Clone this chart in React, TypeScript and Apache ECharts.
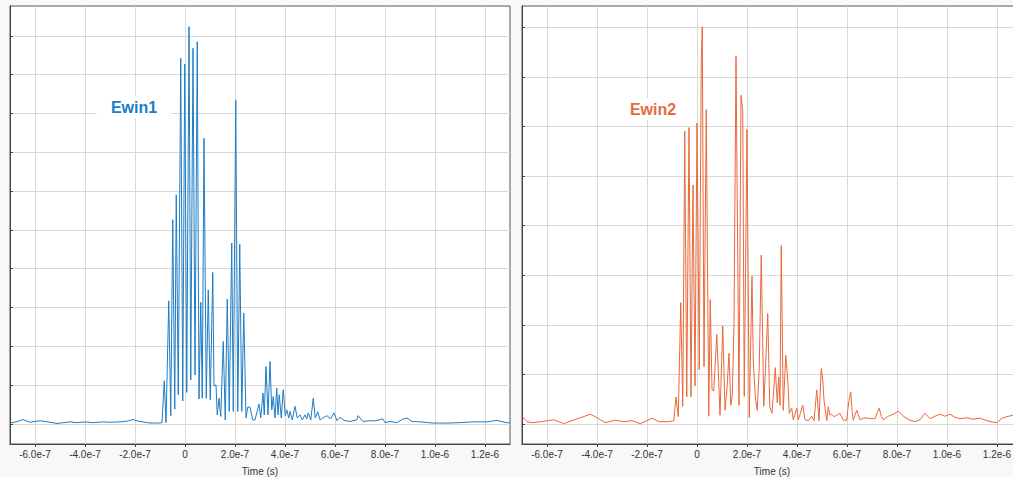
import React, { useEffect, useRef } from 'react';
import * as echarts from 'echarts';

// time in ns (axis labels shown in seconds)
const xTicks = [-600, -400, -200, 0, 200, 400, 600, 800, 1000, 1200];
const leftYTicks = [0, 1, 2, 3, 4, 5, 6, 7, 8, 9, 10];
const rightYTicks = [0, 1, 2, 3, 4, 5, 6, 7, 8];

const ewin1: [number, number][] = [
  [-700, 0.02], [-676, 0.05], [-649, 0.11], [-620, 0.04], [-580, 0.08], [-540, 0.04], [-512, 0.01],
  [-460, 0.05], [-432, 0.03], [-400, 0.05], [-368, 0.03], [-330, 0.05], [-300, 0.04], [-260, 0.05],
  [-230, 0.07], [-208, 0.11], [-188, 0.07], [-168, 0.05], [-140, 0.02], [-108, 0.02], [-92, 0.03],
  [-83, 1.11], [-76, 0.03], [-65, 3.17], [-57, 0.21], [-49, 5.26], [-41, 0.38], [-35, 5.9], [-27, 0.75],
  [-17, 9.42], [-9, 0.59], [-1, 9.27], [7, 0.81], [16, 10.24], [23, 1.13], [32, 9.68], [40, 1.26],
  [49, 9.85], [56, 0.64], [63, 3.13], [69, 0.66], [76, 7.36], [85, 0.66], [93, 3.45], [101, 0.62],
  [111, 3.9], [116, 0.98], [124, 1.0], [129, 0.23], [136, 0.66], [143, 0.19], [153, 2.12], [161, 0.1],
  [169, 3.21], [177, 0.32], [187, 4.66], [193, 0.32], [203, 8.35], [211, 0.32], [219, 4.63], [227, 0.32],
  [235, 2.85], [244, 0.15], [251, 0.43], [260, 0.43], [271, 0.1], [280, 0.1], [296, 0.51], [303, 0.15],
  [312, 0.79], [317, 0.23], [324, 1.48], [332, 0.23], [340, 1.61], [347, 0.36], [353, 0.7], [360, 0.15],
  [367, 0.92], [372, 0.23], [377, 0.75], [385, 0.15], [393, 0.88], [401, 0.21], [407, 0.36], [415, 0.15],
  [420, 0.32], [429, 0.1], [440, 0.45], [449, 0.15], [460, 0.23], [469, 0.1], [480, 0.23], [487, 0.13],
  [493, 0.28], [503, 0.1], [513, 0.66], [521, 0.15], [531, 0.31], [540, 0.1], [551, 0.15], [567, 0.21],
  [583, 0.13], [596, 0.28], [608, 0.08], [620, 0.17], [636, 0.09], [660, 0.06], [687, 0.1], [692, 0.21],
  [712, 0.06], [740, 0.08], [764, 0.08], [791, 0.13], [800, 0.03], [820, 0.06], [847, 0.03], [872, 0.12],
  [888, 0.15], [908, 0.06], [940, 0.05], [992, 0.02], [1048, 0.02], [1100, 0.03], [1152, 0.05],
  [1208, 0.05], [1248, 0.09], [1272, 0.05], [1300, 0.02],
];

const ewin2: [number, number][] = [
  [-700, 0.16], [-680, 0.05], [-660, 0.03], [-620, 0.05], [-573, 0.09], [-533, 0.01], [-500, 0.07],
  [-460, 0.14], [-427, 0.2], [-407, 0.15], [-367, 0.03], [-327, 0.08], [-293, 0.05], [-260, 0.07],
  [-227, 0.01], [-180, 0.12], [-153, 0.05], [-113, 0.05], [-93, 0.07],
  [-84, 0.55], [-75, 0.15], [-65, 2.45], [-57, 0.36], [-49, 5.91], [-41, 0.55], [-32, 5.98], [-24, 0.55],
  [-16, 4.82], [-8, 0.77], [0, 6.07], [9, 1.1], [17, 7.3], [21, 8.01], [28, 1.16], [37, 6.34], [47, 0.16],
  [53, 2.51], [60, 0.69], [67, 0.67], [79, 1.81], [85, 1.09], [92, 0.18], [103, 1.98], [112, 0.28],
  [120, 0.72], [128, 1.43], [135, 0.38], [141, 0.56], [148, 2.03], [156, 7.42], [168, 0.38], [176, 6.63],
  [183, 6.33], [189, 0.56], [200, 5.94], [209, 0.13], [220, 2.98], [225, 1.29], [233, 0.55], [241, 0.28],
  [249, 1.16], [257, 3.41], [267, 0.36], [273, 1.03], [283, 2.23], [291, 0.35], [300, 0.22], [313, 1.14],
  [321, 0.43], [327, 0.95], [332, 0.38], [337, 3.6], [345, 0.28], [355, 1.39], [364, 0.82], [369, 0.22],
  [379, 0.32], [385, 0.09], [399, 0.32], [405, 0.09], [415, 0.24], [423, 0.38], [432, 0.09], [445, 0.07],
  [459, 0.16], [468, 0.07], [479, 0.69], [488, 0.07], [497, 1.12], [503, 0.89], [508, 0.48], [519, 0.07],
  [525, 0.35], [532, 0.18], [539, 0.2], [548, 0.15], [559, 0.18], [572, 0.22], [585, 0.08], [599, 0.08],
  [604, 0.32], [608, 0.48], [615, 0.65], [620, 0.28], [625, 0.08], [639, 0.28], [652, 0.09], [672, 0.13],
  [692, 0.11], [712, 0.11], [721, 0.24], [729, 0.32], [737, 0.16], [745, 0.09], [765, 0.16], [785, 0.2],
  [805, 0.26], [815, 0.22], [825, 0.16], [852, 0.08], [872, 0.05], [892, 0.09], [912, 0.22], [932, 0.11],
  [952, 0.16], [972, 0.2], [992, 0.16], [1012, 0.2], [1032, 0.14], [1052, 0.11], [1079, 0.13],
  [1104, 0.1], [1132, 0.12], [1160, 0.07], [1184, 0.04], [1200, 0.03], [1220, 0.12], [1239, 0.15],
  [1264, 0.18], [1300, 0.15],
];

const BLUE = '#1f7cc4';
const ORANGE = '#e8693a';
const FONT = '"Liberation Sans", Arial, sans-serif';

function fmtTime(v: number): string {
  if (v === 0) return '0';
  return (v * 1e-9).toExponential(1);
}

function xAxisDef(gridIndex: number) {
  return {
    type: 'value',
    gridIndex,
    position: 'bottom',
    min: -700,
    max: 1300,
    name: 'Time (s)',
    nameLocation: 'middle',
    nameGap: 22,
    nameTextStyle: { fontSize: 10, color: '#333', fontFamily: FONT },
    axisLine: { show: true, onZero: false, lineStyle: { color: '#444', width: 1 } },
    axisTick: { show: true, length: 3, lineStyle: { color: '#444' }, customValues: xTicks },
    axisLabel: {
      show: true, fontSize: 10, color: '#333', margin: 5, fontFamily: FONT,
      customValues: xTicks, formatter: fmtTime,
    },
    splitLine: { show: true, lineStyle: { color: '#d9d9d9', width: 1 } },
  };
}

function yAxisDef(gridIndex: number, min: number, max: number, ticks: number[]) {
  return {
    type: 'value',
    gridIndex,
    position: 'left',
    min,
    max,
    axisLine: { show: true, onZero: false, lineStyle: { color: '#444', width: 1 } },
    axisTick: { show: true, inside: true, length: 3, lineStyle: { color: '#444' }, customValues: ticks },
    axisLabel: { show: false, customValues: ticks },
    splitLine: { show: true, lineStyle: { color: '#d9d9d9', width: 1 } },
  };
}

export default function App() {
  const ref = useRef<HTMLDivElement>(null);
  useEffect(() => {
    if (!ref.current) return;
    const chart = echarts.init(ref.current, null, { renderer: 'svg' });
    chart.setOption({
      animation: false,
      backgroundColor: '#f8f8f8',
      grid: [
        { left: 10, top: 6, width: 500, height: 438, show: true, backgroundColor: '#fff', borderColor: '#555', borderWidth: 1, containLabel: false, outerBoundsMode: 'none' },
        { left: 522, top: 6, width: 500, height: 438, show: true, backgroundColor: '#fff', borderColor: '#555', borderWidth: 1, containLabel: false, outerBoundsMode: 'none' },
      ],
      xAxis: [xAxisDef(0), xAxisDef(1)],
      yAxis: [yAxisDef(0, -0.52, 10.77, leftYTicks), yAxisDef(1, -0.4, 8.43, rightYTicks)],
      series: [
        {
          name: 'Ewin1', type: 'line', xAxisIndex: 0, yAxisIndex: 0, data: ewin1,
          showSymbol: false, symbol: 'none', clip: true,
          lineStyle: { color: BLUE, width: 1 }, itemStyle: { color: BLUE },
        },
        {
          name: 'Ewin2', type: 'line', xAxisIndex: 1, yAxisIndex: 1, data: ewin2,
          showSymbol: false, symbol: 'none', clip: true,
          lineStyle: { color: ORANGE, width: 1 }, itemStyle: { color: ORANGE },
        },
      ],
      graphic: [
        {
          type: 'text', x: 134, y: 107, z: 100,
          style: {
            text: 'Ewin1', align: 'center', verticalAlign: 'middle',
            font: `bold 16px ${FONT}`, fill: '#1a7cc6', backgroundColor: '#fff', padding: [3, 14],
          },
        },
        {
          type: 'text', x: 653, y: 109, z: 100,
          style: {
            text: 'Ewin2', align: 'center', verticalAlign: 'middle',
            font: `bold 16px ${FONT}`, fill: '#e46c3c', backgroundColor: '#fff', padding: [3, 14],
          },
        },
      ],
    });
    return () => chart.dispose();
  }, []);
  return (
    <div style={{ position: 'fixed', left: 0, top: 0, width: 1013, height: 477, overflow: 'hidden' }}>
      <div ref={ref} style={{ width: 1013, height: 477 }} />
    </div>
  );
}
